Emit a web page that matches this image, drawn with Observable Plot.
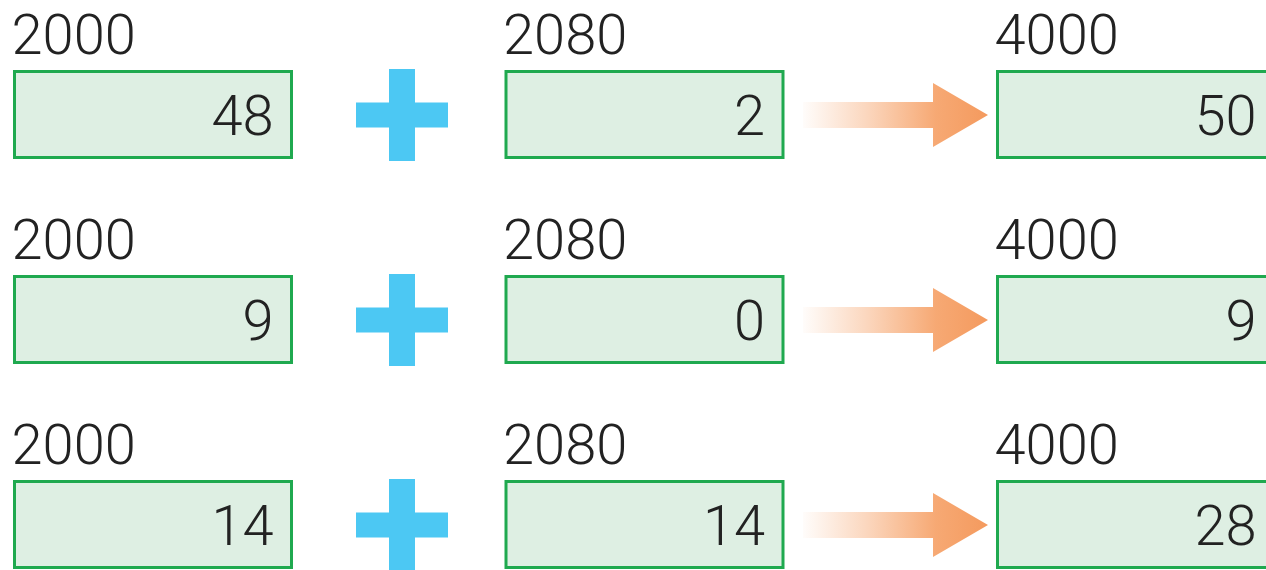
<!DOCTYPE html>
<html>
<head>
<meta charset="utf-8">
<script src="https://cdn.jsdelivr.net/npm/d3@7"></script>
<script src="https://cdn.jsdelivr.net/npm/@observablehq/plot@0.6"></script>
<style>
  html, body { margin: 0; padding: 0; background: #fff; }
  #chart svg { display: block; }
</style>
</head>
<body>
<div id="chart"></div>
<script>
// ---- data ----
const headers = ["2000", "2080", "4000"];
const values2000 = [48, 9, 14];
const values2080 = [2, 0, 14];
const values4000 = [50, 9, 28];

// ---- layout ----
const W = 1266, H = 570;
const colLeft = c => 13 + c * 491.5;
const rowTop = r => 70 + r * 205;
const boxW = 280, boxH = 89;
const FONT = "Roboto, 'Liberation Sans', sans-serif";

const series = [values2000, values2080, values4000];
const cells = [];
for (let r = 0; r < 3; r++) {
  for (let c = 0; c < 3; c++) {
    cells.push({row: r, col: c, header: headers[c], value: series[c][r]});
  }
}
const rowsIdx = [0, 1, 2];

// plus sign parts
const plusParts = [];
for (const r of rowsIdx) {
  const cx = 402, cy = rowTop(r) + 45;
  plusParts.push({x1: cx - 46, x2: cx + 46, y1: cy - 12.5, y2: cy + 12.5});
  plusParts.push({x1: cx - 13, x2: cx + 13, y1: cy - 46, y2: cy + 46});
}

// arrow outlines
const arrowPts = [];
for (const r of rowsIdx) {
  const cy = rowTop(r) + 45;
  arrowPts.push({row: r, x: 803, y1: cy - 13, y2: cy + 13});
  arrowPts.push({row: r, x: 933, y1: cy - 13, y2: cy + 13});
  arrowPts.push({row: r, x: 933, y1: cy - 32, y2: cy + 32});
  arrowPts.push({row: r, x: 988, y1: cy, y2: cy});
}

const svg = Plot.plot({
  width: W,
  height: H,
  margin: 0,
  x: {domain: [0, W], range: [0, W], axis: null},
  y: {domain: [0, H], range: [0, H], axis: null},
  style: {fontFamily: FONT, background: "#fff"},
  marks: [
    Plot.rect(cells, {
      x1: d => colLeft(d.col) + 1.5,
      x2: d => colLeft(d.col) + boxW - 1.5,
      y1: d => rowTop(d.row) + 1.5,
      y2: d => rowTop(d.row) + boxH - 1.5,
      fill: "#deefe3",
      stroke: "#1fa94f",
      strokeWidth: 3
    }),
    Plot.text(cells, {
      x: d => colLeft(d.col) - 2,
      y: d => rowTop(d.row) - 17,
      text: "header",
      textAnchor: "start",
      lineAnchor: "bottom",
      fontSize: 56,
      fontWeight: 300,
      fill: "#222"
    }),
    Plot.text(cells, {
      x: d => colLeft(d.col) + boxW - 20,
      y: d => rowTop(d.row) + 64,
      text: d => String(d.value),
      textAnchor: "end",
      lineAnchor: "bottom",
      fontSize: 56,
      fontWeight: 300,
      fill: "#222"
    }),
    Plot.rect(plusParts, {x1: "x1", x2: "x2", y1: "y1", y2: "y2", fill: "#4cc8f3"}),
    Plot.area(arrowPts, {x1: "x", y1: "y1", y2: "y2", z: "row", fill: "url(#arrowGrad)", curve: "linear"})
  ]
});

// gradient definition for arrows
const ns = "http://www.w3.org/2000/svg";
const defs = document.createElementNS(ns, "defs");
const grad = document.createElementNS(ns, "linearGradient");
grad.setAttribute("id", "arrowGrad");
grad.setAttribute("x1", "0"); grad.setAttribute("x2", "1");
grad.setAttribute("y1", "0"); grad.setAttribute("y2", "0");
[["0", "#f6a46c", "0.03"], ["0.35", "#f6a46c", "0.45"], ["0.72", "#f6a46c", "0.95"], ["1", "#f49a5e", "1"]].forEach(([o, c, a]) => {
  const s = document.createElementNS(ns, "stop");
  s.setAttribute("offset", o);
  s.setAttribute("stop-color", c);
  s.setAttribute("stop-opacity", a);
  grad.appendChild(s);
});
defs.appendChild(grad);
svg.insertBefore(defs, svg.firstChild);

document.getElementById("chart").appendChild(svg);
</script>
</body>
</html>
